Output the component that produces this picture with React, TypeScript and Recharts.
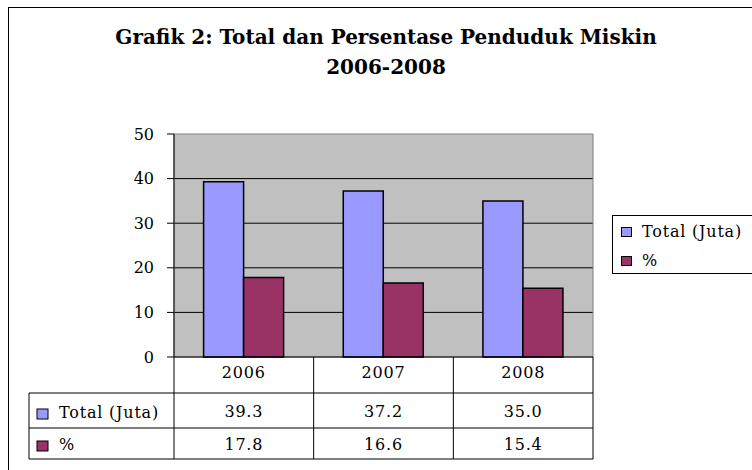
import * as React from 'react'
import { Bar, BarChart, CartesianGrid, Legend, ReferenceArea, XAxis, YAxis } from 'recharts'

const years = ['2006', '2007', '2008']
const totalJuta = [39.3, 37.2, 35.0]
const persen = [17.8, 16.6, 15.4]
const yTicks = [0, 10, 20, 30, 40, 50]

const SERIES = [
  { key: 'total', name: 'Total (Juta)', color: '#9999FF', values: totalJuta },
  { key: 'pct', name: '%', color: '#993366', values: persen },
]

const W = 752
const H = 470
const PLOT_LEFT = 174
const PLOT_RIGHT = 593
const PLOT_TOP = 134
const PLOT_BOTTOM = 357
const ROW_1 = 393
const ROW_2 = 428
const ROW_3 = 459
const TABLE_LEFT = 29

const FONT = '"DejaVu Serif", serif'
const TEXT: React.SVGProps<SVGTextElement> = {
  fontFamily: FONT,
  fontSize: 16,
  fill: '#000',
  letterSpacing: 0.8,
}

const data = years.map((year, i) => ({ year, total: totalJuta[i], pct: persen[i] }))

/* data table under the plot, drawn one column per x tick */
function TableTick(props: any) {
  const { x, payload, index } = props
  const colW = (PLOT_RIGHT - PLOT_LEFT) / years.length
  const left = x - colW / 2
  const right = x + colW / 2
  const line = { stroke: '#000', strokeWidth: 1 }

  return (
    <g>
      <line x1={right} y1={PLOT_BOTTOM} x2={right} y2={ROW_3} {...line} />
      <line x1={left} y1={ROW_1} x2={right} y2={ROW_1} {...line} />
      <line x1={left} y1={ROW_2} x2={right} y2={ROW_2} {...line} />
      <line x1={left} y1={ROW_3} x2={right} y2={ROW_3} {...line} />
      <text x={x} y={378} textAnchor="middle" {...TEXT}>
        {payload.value}
      </text>
      {SERIES.map((s, r) => (
        <text key={s.key} x={x} y={r === 0 ? 417 : 450} textAnchor="middle" {...TEXT}>
          {s.values[index].toFixed(1)}
        </text>
      ))}
      {index === 0 && (
        <g>
          <line x1={left} y1={PLOT_BOTTOM} x2={left} y2={ROW_3} {...line} />
          <line x1={TABLE_LEFT} y1={ROW_1} x2={left} y2={ROW_1} {...line} />
          <line x1={TABLE_LEFT} y1={ROW_2} x2={left} y2={ROW_2} {...line} />
          <line x1={TABLE_LEFT} y1={ROW_3} x2={left} y2={ROW_3} {...line} />
          <line x1={TABLE_LEFT} y1={ROW_1} x2={TABLE_LEFT} y2={ROW_3} {...line} />
          {SERIES.map((s, r) => {
            const base = r === 0 ? 418 : 450
            return (
              <g key={s.key}>
                <rect x={37} y={base - 9} width={11} height={10} fill={s.color} stroke="#000" strokeWidth={1} />
                <text x={59} y={base} {...TEXT}>
                  {s.name}
                </text>
              </g>
            )
          })}
        </g>
      )}
    </g>
  )
}

function SideLegend({ payload }: any) {
  // keep the series order (Recharts 3 sorts legend items by name)
  const items = [...(payload || [])].sort(
    (a: any, b: any) =>
      SERIES.findIndex((s) => s.name === a.value) - SERIES.findIndex((s) => s.name === b.value),
  )
  return (
    <div
      style={{
        width: 150,
        height: 59,
        border: '1px solid #000',
        background: '#fff',
        boxSizing: 'border-box',
        fontFamily: FONT,
        fontSize: 16,
        letterSpacing: 0.8,
        color: '#000',
        position: 'relative',
      }}
    >
      {items.map((entry: any, i: number) => (
        <div
          key={entry.value}
          style={{ position: 'absolute', left: 8, top: 9 + i * 29, height: 14, display: 'flex', alignItems: 'center' }}
        >
          <span
            style={{
              display: 'inline-block',
              width: 11,
              height: 10,
              boxSizing: 'border-box',
              border: '1px solid #000',
              background: entry.color,
              marginRight: 10,
            }}
          />
          <span style={{ lineHeight: '14px', whiteSpace: 'nowrap' }}>{entry.value}</span>
        </div>
      ))}
    </div>
  )
}

export default function App() {
  return (
    <div style={{ position: 'absolute', left: 0, top: 0, width: W, height: H, overflow: 'hidden', background: '#fff' }}>
      <div
        style={{
          position: 'absolute',
          left: 8,
          top: 7,
          width: 800,
          height: 500,
          border: '1px solid #000',
        }}
      />
      <div
        style={{
          position: 'absolute',
          left: 0,
          top: 22,
          width: 772,
          textAlign: 'center',
          fontFamily: FONT,
          fontWeight: 'bold',
          fontSize: 20,
          lineHeight: '30px',
          color: '#000',
        }}
      >
        Grafik 2: Total dan Persentase Penduduk Miskin
        <br />
        2006-2008
      </div>
      <div style={{ position: 'absolute', left: 0, top: 0 }}>
        <BarChart
          width={W}
          height={H}
          data={data}
          margin={{ top: PLOT_TOP, right: W - PLOT_RIGHT, bottom: 0, left: PLOT_LEFT - 60 }}
          barCategoryGap={29.6}
          barGap={0}
        >
          <CartesianGrid
            vertical={false}
            stroke="#000"
            fill="#C0C0C0"
            fillOpacity={1}
            horizontalValues={[10, 20, 30, 40]}
          />
          <ReferenceArea y1={0} y2={50} fill="none" stroke="#808080" strokeWidth={1} />
          <XAxis
            dataKey="year"
            height={H - PLOT_BOTTOM}
            interval={0}
            tickLine={false}
            axisLine={{ stroke: '#000' }}
            tick={(p: any) => <TableTick {...p} />}
          />
          <YAxis
            width={60}
            domain={[0, 50]}
            ticks={yTicks}
            tickSize={7}
            tickMargin={13}
            axisLine={{ stroke: '#000' }}
            tickLine={{ stroke: '#000' }}
            tick={{ fontFamily: FONT, fontSize: 16, fill: '#000' }}
          />
          <Legend
            layout="vertical"
            align="center"
            verticalAlign="middle"
            content={<SideLegend />}
            wrapperStyle={{ left: 612, top: 215, width: 150 }}
          />
          {SERIES.map((s) => (
            <Bar
              key={s.key}
              dataKey={s.key}
              name={s.name}
              fill={s.color}
              stroke="#000"
              strokeWidth={1.5}
              isAnimationActive={false}
            />
          ))}
        </BarChart>
      </div>
    </div>
  )
}
